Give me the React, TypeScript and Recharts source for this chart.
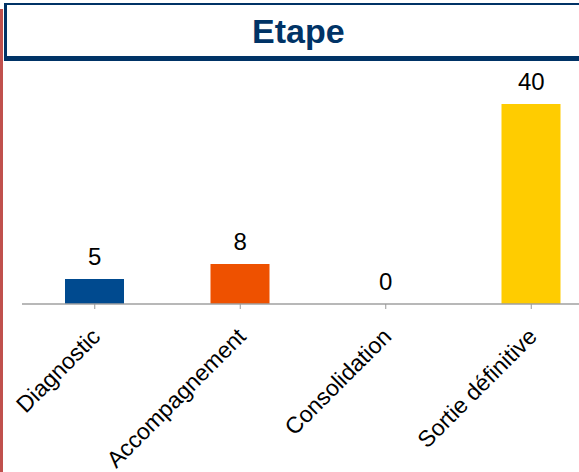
import React from "react";
import { ComposedChart, Bar, Line, XAxis, YAxis, Cell, LabelList } from "recharts";

const etapes = ["Diagnostic", "Accompagnement", "Consolidation", "Sortie définitive"];
const effectifs = [5, 8, 0, 40];
const couleurs = ["#004A8F", "#EE5100", "#FFCC00", "#FFCC00"];

const data = etapes.map((name, i) => ({ name, value: effectifs[i] }));

const FONT = "Liberation Sans, Arial, sans-serif";

const RotatedTick = ({ x, y, payload }) => {
  return (
    <g transform={`translate(${x},${y})`}>
      <text
        x={7}
        y={27}
        textAnchor="end"
        fill="#000"
        fontSize={23}
        fontFamily={FONT}
        transform="rotate(-45, 7, 27)"
      >
        {payload.value}
      </text>
    </g>
  );
};

// étiquettes de valeur posées sur les points (fonctionne aussi pour 0)
const ValueLabel = (props) => {
  const { x, y, value } = props;
  return (
    <text
      x={x}
      y={y - 14}
      textAnchor="middle"
      fill="#000"
      fontSize={24}
      fontFamily={FONT}
    >
      {value}
    </text>
  );
};

export default function App() {
  return (
    <div
      style={{
        position: "absolute",
        left: 0,
        top: 0,
        width: 579,
        height: 472,
        overflow: "hidden",
        background: "#fff",
        fontFamily: FONT,
      }}
    >
      {/* bande rouge à gauche */}
      <div
        style={{
          position: "absolute",
          left: 0,
          top: 9,
          width: 3,
          height: 463,
          background: "#C0504D",
        }}
      />
      {/* cadre du titre */}
      <div
        style={{
          position: "absolute",
          left: 4,
          top: 3,
          width: 620,
          height: 51,
          borderTop: "2px solid #003366",
          borderLeft: "3px solid #003366",
          borderBottom: "5px solid #003366",
          boxSizing: "content-box",
        }}
      >
        <div
          style={{
            position: "absolute",
            left: 245,
            top: 7,
            fontSize: 34,
            fontWeight: "bold",
            color: "#003366",
          }}
        >
          Etape
        </div>
      </div>
      <div style={{ position: "absolute", left: 0, top: 0 }}>
        <ComposedChart
          width={640}
          height={472}
          data={data}
          margin={{ top: 64, right: 36, left: 22, bottom: 0 }}
          barCategoryGap={0}
        >
          <YAxis hide width={0} domain={[0, 48]} />
          <XAxis
            dataKey="name"
            height={168}
            interval={0}
            tick={<RotatedTick />}
            tickLine={{ stroke: "#999" }}
            axisLine={{ stroke: "#A0A0A0", strokeWidth: 1.5 }}
            tickSize={5}
          />
          <Bar dataKey="value" barSize={59} isAnimationActive={false}>
            {data.map((entry, index) => (
              <Cell key={`cell-${index}`} fill={couleurs[index]} />
            ))}
          </Bar>
          <Line
            dataKey="value"
            stroke="none"
            dot={false}
            activeDot={false}
            isAnimationActive={false}
          >
            <LabelList dataKey="value" content={<ValueLabel />} />
          </Line>
        </ComposedChart>
      </div>
    </div>
  );
}
